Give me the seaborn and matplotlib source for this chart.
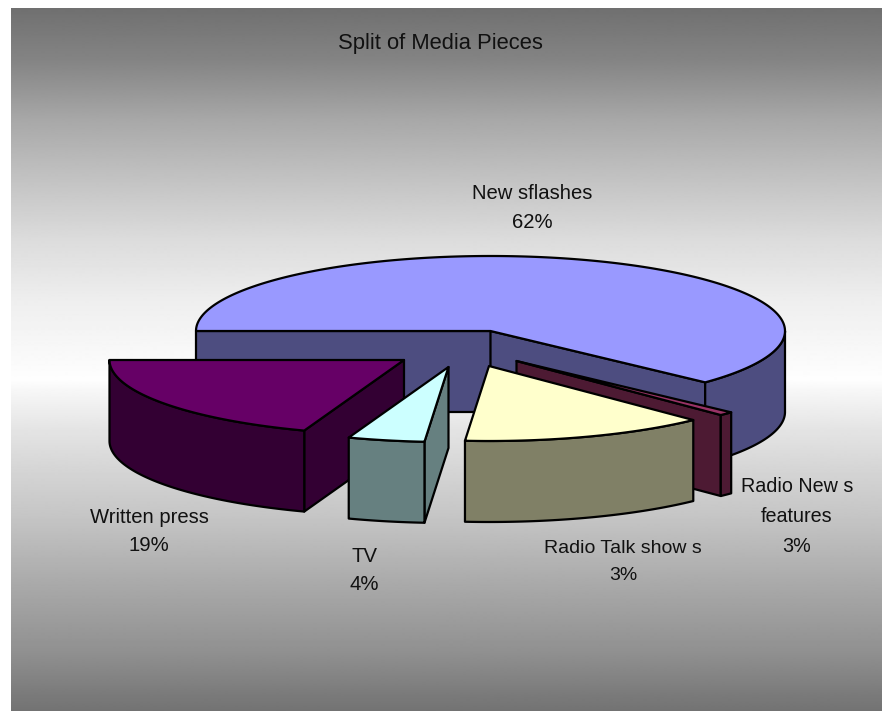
import numpy as np
import matplotlib
matplotlib.use("Agg")
import matplotlib.pyplot as plt
import seaborn as sns

# ---- data ----
title = "Split of Media Pieces"
names = ["New sflashes", "Radio New s\nfeatures", "Radio Talk show s", "TV", "Written press"]
shares = [62.0, 0.8, 13.5, 4.2, 19.5]          # share of the circle as drawn
printed_pct = [62, 3, 3, 4, 19]                 # percentages as printed
top_hex = ["#9999FF", "#993366", "#FFFFCC", "#CCFFFF", "#660066"]
side_hex = ["#4D4D80", "#4D1A33", "#808066", "#668080", "#330033"]

# ---- styling / layout ----
W, H = 882, 711
CX, CY, RX, RY, DEPTH = 490.5, 331, 294.5, 75, 81
explode = [(0, 0), (26, 30), (-1.5, 35), (-42, 36), (-86.5, 29)]
label_xy = [(532, 208), (797, 516.5), (623, 562), (364, 570.5), (149, 531.5)]
label_size = [14.6, 14.2, 14.0, 14.6, 14.6]
draw_order = [0, 1, 2, 4, 3]
LW = 1.6
grad_y = [8, 60, 120, 180, 240, 300, 350, 380, 390, 430, 470, 517, 583, 650, 700, 711]
grad_v = [112, 132, 168, 195, 220, 238, 248, 254, 247, 228, 213, 197, 170, 145, 120, 115]

sns.set_theme(style="white")
plt.rcParams["font.family"] = ["Liberation Sans", "DejaVu Sans"]
top_pal = sns.color_palette(top_hex)
side_pal = sns.color_palette(side_hex)

fig = plt.figure(figsize=(W / 100, H / 100), dpi=100, facecolor="white")
ax = fig.add_axes([0, 0, 1, 1])
ax.axis("off")

# background gradient
ys = np.arange(8, H + 1)
grey = np.interp(ys, grad_y, grad_v) / 255
ax.imshow(grey[:, None], cmap="gray", vmin=0, vmax=1, aspect="auto",
          extent=[11, W, H, 8], interpolation="bilinear", zorder=0)
ax.set_xlim(0, W)
ax.set_ylim(H, 0)

# slice boundaries, clockwise from the left edge
fractions = np.array(shares) / np.sum(shares)
edges = 180 - 360 * np.concatenate([[0], np.cumsum(fractions)])


def point(theta, dx, dy):
    t = np.radians(theta)
    return CX + dx + RX * np.cos(t), CY + dy - RY * np.sin(t)


def poly(xs, ys_, color):
    ax.fill(xs, ys_, facecolor=color, edgecolor="black", linewidth=LW,
            joinstyle="round", zorder=2)


for i in draw_order:
    a0, a1 = edges[i], edges[i + 1]
    dx, dy = explode[i]
    tx, ty = CX + dx, CY + dy
    # radial cut faces, only those turned toward the viewer
    for a, normal in ((a0, a0 + 90), (a1, a1 - 90)):
        if np.sin(np.radians(normal)) < 0:
            px, py = point(a, dx, dy)
            poly([tx, px, px, tx], [ty, py, py + DEPTH, ty + DEPTH], side_pal[i])
    # outer rim, only the part facing the viewer
    hi, lo = min(a0, 0), max(a1, -180)
    if hi > lo:
        th = np.linspace(hi, lo, 120)
        rx_, ry_ = point(th, dx, dy)
        poly(np.r_[rx_, rx_[::-1]], np.r_[ry_, ry_[::-1] + DEPTH], side_pal[i])
    # top face
    th = np.linspace(a0, a1, 240)
    qx, qy = point(th, dx, dy)
    poly(np.r_[tx, qx], np.r_[ty, qy], top_pal[i])

# text
ax.text(440, 44, title, ha="center", va="center", fontsize=15.8, color="#111111", zorder=3)
for name, pct, (lx, ly), fs in zip(names, printed_pct, label_xy, label_size):
    ax.text(lx, ly, f"{name}\n{pct}%", ha="center", va="center", fontsize=fs,
            linespacing=1.68 * 14.6 / fs * 0.99, color="#111111", zorder=3)

fig.savefig("out.png", dpi=100, facecolor="white")
